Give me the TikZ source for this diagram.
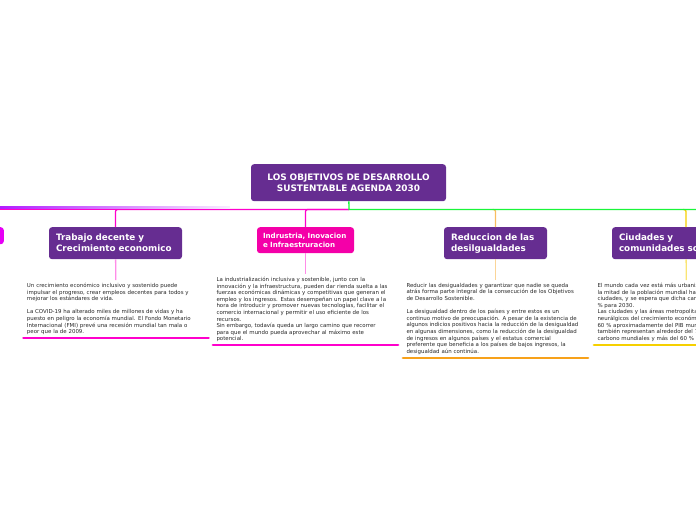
\documentclass[tikz,border=0pt]{standalone}
\usepackage{fontspec}
\setmainfont{DejaVu Sans}
\usepackage{xcolor}
\usetikzlibrary{positioning}
\definecolor{grape}{HTML}{662D91}
\definecolor{fuchsia}{HTML}{F400A8}
\definecolor{orchid}{HTML}{E600F5}
\definecolor{rose}{HTML}{FF00CC}
\definecolor{busgreen}{HTML}{1AF53A}
\definecolor{amber}{HTML}{F7A11A}
\definecolor{gold}{HTML}{F6D000}
\definecolor{busviolet}{HTML}{B21CFF}

\begin{document}
\begin{tikzpicture}[x=1pt,y=-1pt,
  goal/.style={rounded corners=3pt,fill=grape,text=white,align=left,anchor=north,
    font=\fontsize{8.8}{11}\selectfont\bfseries,inner xsep=7pt,inner ysep=0pt,minimum height=32pt},
  note/.style={anchor=north,align=left,text width=178pt,inner xsep=3.5pt,inner ysep=3pt,
    text=black!85,font=\fontsize{5.45}{6.6}\selectfont},
  stem/.style={line width=1.3pt},
  bar/.style={line width=2.2pt,line cap=round}]
\useasboundingbox (0,0) rectangle (696,520);
\clip (0,0) rectangle (696,520);
% centre
\node[goal,align=center,text width=185pt,inner xsep=5pt,minimum height=37pt,font=\fontsize{8.9}{11}\selectfont\bfseries] (root) at (348.5,164) {LOS OBJETIVOS DE DESARROLLO\\SUSTENTABLE AGENDA 2030};
\coordinate (hub) at (349,209.5);
% topics
\node[fill=orchid,rounded corners=3pt,minimum width=40pt,minimum height=17pt,anchor=north east] (prev) at (4,227) {};
\node[goal,text width=119pt] (trabajo) at (115.5,227) {Trabajo decente y\\Crecimiento economico};
\node[goal,fill=fuchsia,text width=85pt,minimum height=26pt,inner xsep=6pt,font=\fontsize{7.1}{8.8}\selectfont\bfseries] (industria) at (305.5,227) {Indrustria, Inovacion\\e Infraestruracion};
\node[goal,text width=89pt] (reduccion) at (495.5,227) {Reduccion de las\\desilgualdades};
\node[goal,text width=134pt] (ciudades) at (686,227) {Ciudades y\\comunidades sostenibles};
% texts
\node[note] (trabajo-txt) at (116,280) {Un crecimiento económico inclusivo y sostenido puede\\impulsar el progreso, crear empleos decentes para todos y\\mejorar los estándares de vida.\\[6.6pt]La COVID-19 ha alterado miles de millones de vidas y ha\\puesto en peligro la economía mundial. El Fondo Monetario\\Internacional (FMI) prevé una recesión mundial tan mala o\\peor que la de 2009.};
\node[note] (industria-txt) at (305.5,274) {La industrialización inclusiva y sostenible, junto con la\\innovación y la infraestructura, pueden dar rienda suelta a las\\fuerzas económicas dinámicas y competitivas que generan el\\empleo y los ingresos. Estas desempeñan un papel clave a la\\hora de introducir y promover nuevas tecnologías, facilitar el\\comercio internacional y permitir el uso eficiente de los\\recursos.\\Sin embargo, todavía queda un largo camino que recorrer\\para que el mundo pueda aprovechar al máximo este\\potencial.};
\node[note] (reduccion-txt) at (495.5,280) {Reducir las desigualdades y garantizar que nadie se queda\\atrás forma parte integral de la consecución de los Objetivos\\de Desarrollo Sostenible.\\[6.6pt]La desigualdad dentro de los países y entre estos es un\\continuo motivo de preocupación. A pesar de la existencia de\\algunos indicios positivos hacia la reducción de la desigualdad\\en algunas dimensiones, como la reducción de la desigualdad\\de ingresos en algunos países y el estatus comercial\\preferente que beneficia a los países de bajos ingresos, la\\desigualdad aún continúa.};
\node[note] (ciudades-txt) at (686.5,280) {El mundo cada vez está más urbanizado. Desde 2007, más de\\la mitad de la población mundial ha vivido en\\ciudades, y se espera que dicha cantidad aumente hasta el 60\\\% para 2030.\\Las ciudades y las áreas metropolitanas son centros\\neurálgicos del crecimiento económico, ya que contribuyen al\\60 \% aproximadamente del PIB mundial. Sin embargo,\\también representan alrededor del 70 \% de las emisiones de\\carbono mundiales y más del 60 \% del uso de recursos.};
% bus and branches
\draw[stem,rose,rounded corners=2pt] (hub) -| (trabajo);
\draw[stem,rose,rounded corners=2pt] (hub) -| (industria);
\draw[stem,amber!70,rounded corners=2pt] ([xshift=-3pt]hub -| reduccion) -| (reduccion);
\draw[stem,gold,rounded corners=2pt] ([xshift=-3pt]hub -| ciudades) -| (ciudades);
\draw[stem,rose] (hub) -- (hub -| prev.west);
\draw[stem,busgreen] (root) -- (hub) -- (696,209.5);
% stems to texts
\draw[stem,rose!45] (trabajo) -- (trabajo-txt);
\draw[stem,rose!45] (industria) -- (industria-txt);
\draw[stem,amber!45] (reduccion) -- (reduccion-txt);
\draw[stem,gold!55] (ciudades) -- (ciudades-txt);
% underlines
\draw[bar,rose] (trabajo-txt.south west) -- (trabajo-txt.south east);
\draw[bar,rose] (industria-txt.south west) -- (industria-txt.south east);
\draw[bar,amber] (reduccion-txt.south west) -- (reduccion-txt.south east);
\draw[bar,gold] (ciudades-txt.south west) -- (ciudades-txt.south east);
% fading violet line, left
\shade[left color=busviolet,right color=busviolet!8] (0,206.6) rectangle (230,208.6);
\end{tikzpicture}
\end{document}
